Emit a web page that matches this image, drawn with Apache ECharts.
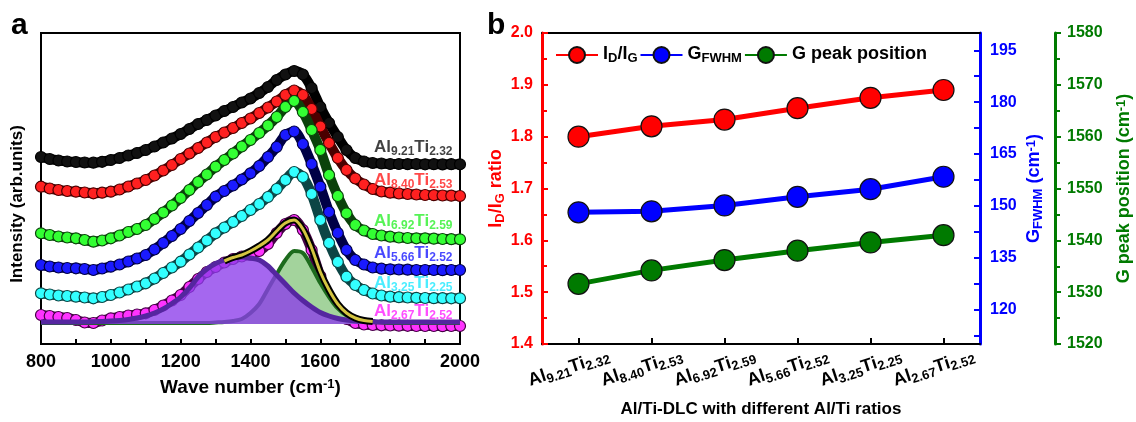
<!DOCTYPE html>
<html>
<head>
<meta charset="utf-8">
<script src="https://cdn.jsdelivr.net/npm/echarts@6/dist/echarts.min.js"></script>
<style>
html, body { margin: 0; padding: 0; background: #fff; }
#chart { width: 1136px; height: 422px; }
</style>
</head>
<body>
<div id="chart"></div>
<script>
// ---------- panel a: Raman spectra (offset, arb. units) ----------
const wavenumbers = [800,825,850,875,900,925,950,975,1000,1025,1050,1075,1100,1125,1150,1175,1200,1225,1250,1275,1300,1325,1350,1375,1400,1425,1450,1475,1500,1525,1550,1575,1600,1625,1650,1675,1700,1725,1750,1775,1800,1825,1850,1875,1900,1925,1950,1975,2000];

const alContent = ['9.21','8.40','6.92','5.66','3.25','2.67'];
const tiContent = ['2.32','2.53','2.59','2.52','2.25','2.52'];

const spectrumAl921 = [187,185,183.5,182.5,182,181.5,181.3,182.2,184,186,188.5,191,194,197.5,201.5,205.5,210,215,220,224,228.5,233,237,241.5,245.5,251,257,264,269.5,273,269.5,256,237,221,207,194,186,182.5,181,180.5,180,180,179.8,180,179.7,179.8,179.6,179.8,179.7];
const spectrumAl840 = [157.3,155.5,154,153,152.3,151.5,150.7,151.3,152.3,154.5,157.5,160.5,164,168.5,173.5,179,185,190.5,196,201.5,207,211.5,216,221,225.5,231,236.5,242.5,249,253.5,249,235,217.5,201,186,174,165.5,159.5,155,152.5,151.3,150.5,150,149.5,149,148.8,148.5,148.3,148];
const spectrumAl692 = [110.7,109,107.5,106.5,105.7,104,102.3,103.5,105.7,108.5,112,115,119,125,131.5,138.5,146,154,162,169.5,177.3,184,190.5,197.5,204,211,218.5,227,237,243,232,214,194,169,148,130.7,119,113.5,110,108.5,107.3,106.5,106,105.7,105.7,105.3,105,104.8,104.7];
const spectrumAl566 = [79,77.5,76.5,76,75.7,75,74,75.5,77.3,79.5,82.5,85.5,89,94.5,101,108,115,123,131,139,147.3,153,158.5,164.5,170.7,178,187,197,209,212.5,200,180,157.3,132,111,94,84,79.5,76.5,75.3,74.7,74.5,74.3,74,74,74,73.8,74,74];
const spectrumAl325 = [50.7,49.5,48.5,48,47.3,46.5,45.7,47,49,51.5,54.5,57.5,60.7,65.5,71,76.5,82.3,89.5,96.5,103.5,110.7,116.5,122,128,134,140,147,155,164,172,167,150,124,101,82,67.3,59,54,50.5,48.5,47.3,46.8,46.5,46.2,46,45.8,45.8,45.7,45.7];
const spectrumAl267 = [29,28,27,26,24,21.5,21,23.5,25.7,27,28.5,29.5,30.7,34,38.5,43.5,49,57,65,72,77,81.5,85,87.5,89,93,100,111,120,124,114,94,68,48,33,25,21,19.5,19,18.7,18.5,18.3,18.2,18,18,18,17.8,18,18];

// Gaussian fit of the Al2.67Ti2.52 spectrum: baseline level and band heights above it
const fitBaseline = 20;
const dBandHeight = [2,2,2,2,2,2,2.3,2.6,3,3.6,4.5,6,8,11,15,20.5,27,36,47,55,60.5,64,66.5,67,66,64,58,49,40,31,23.5,17,11.5,8,5.5,4,3,2.6,2.3,2,2,2,2,2,2,2,2,2,2];
const gBandHeight = [1,1,1,1,1,1,1,1,1,1,1,1,1,1,1,1,1,1,1,1,1.5,2,3,5,11,20,35,50,64,73,71,57,41,27,15.5,8.5,5,3,2,1.5,1,1,1,1,1,1,1,1,1];
const fitEnvelope = ['-','-','-','-','-','-','-','-','-','-','-','-','-','-','-','-','-','-','-','-','-',83,86.5,89,93,98,104,113,121,124,115,96,72,54,40,31,26,23.5,22.5,'-','-','-','-','-','-','-','-','-','-'];

// sample name labels at the right end of each trace
const labelLevels = [196, 163, 121.5, 90, 60, 31.5];

// ---------- panel b: fitted Raman parameters ----------
const idIgRatio = [1.80, 1.82, 1.833, 1.855, 1.875, 1.89];
const gFwhm = [148.1, 148.4, 150.1, 152.6, 154.8, 158.4];
const gPeakPosition = [1531.6, 1534.2, 1536.2, 1538.0, 1539.6, 1541.0];

const fwhmTicks = [112.5,120,127.5,135,142.5,150,157.5,165,172.5,180,187.5,195];
const fwhmLabels = [120,135,150,165,180,195];

// ---------- styling helpers ----------
const FONT = '"Liberation Sans", Arial, Helvetica, sans-serif';
function richSet(main, sub, color) {
  return {
    m: { fontSize: main, fontWeight: 'bold', fontFamily: FONT, color: color, lineHeight: main + 2, verticalAlign: 'top' },
    s: { fontSize: sub, fontWeight: 'bold', fontFamily: FONT, color: color, lineHeight: sub, verticalAlign: 'bottom', padding: [Math.round(main * 0.6), 0, 0, 0] },
    p: { fontSize: sub, fontWeight: 'bold', fontFamily: FONT, color: color, lineHeight: sub, verticalAlign: 'top' }
  };
}
const sampleRich = k => `{m|Al}{s|${alContent[k]}}{m|Ti}{s|${tiContent[k]}}`;
const pairs = arr => wavenumbers.map((w, i) => [w, arr[i]]);
const bandPairs = arr => wavenumbers.map((w, i) => [w, fitBaseline + arr[i]]);

const spectra = [spectrumAl921, spectrumAl840, spectrumAl692, spectrumAl566, spectrumAl325, spectrumAl267];
const traceFill = ['#111111', '#ff2020', '#33ff33', '#1a1aff', '#33ffff', '#ff33ff'];
const traceEdge = ['#000000', '#4a0000', '#0b420b', '#000045', '#0c4545', '#450045'];
const labelColor = ['#111111', '#ff1a1a', '#2cf02c', '#1a1aff', '#1ee8ff', '#ff22ff'];

const RED = '#ff0000', BLUE = '#0000ff', GREEN = '#007a00';
const categories = alContent.map((a, i) => 'Al' + a + 'Ti' + tiContent[i]);

const chart = echarts.init(document.getElementById('chart'), null, { renderer: 'canvas' });

const series = [];
spectra.forEach((arr, k) => {
  series.push({
    type: 'line', xAxisIndex: 0, yAxisIndex: 0, data: pairs(arr),
    smooth: 0.3, symbol: 'circle', symbolSize: 11, showSymbol: true, showAllSymbol: true,
    itemStyle: { color: traceFill[k], borderColor: traceEdge[k], borderWidth: 1.2 },
    lineStyle: { color: traceEdge[k], width: 10 },
    silent: true, z: 2
  });
});
// G band
series.push({ type: 'line', xAxisIndex: 0, yAxisIndex: 0, data: bandPairs(gBandHeight),
  smooth: 0.3, symbol: 'none', lineStyle: { color: '#1d6b1d', width: 4 },
  areaStyle: { color: '#a3d39c', opacity: 1, origin: fitBaseline }, silent: true, z: 3 });
// D band
series.push({ type: 'line', xAxisIndex: 0, yAxisIndex: 0, data: bandPairs(dBandHeight),
  smooth: 0.3, symbol: 'none', lineStyle: { color: '#5526a0', width: 5 },
  areaStyle: { color: 'rgba(140,60,235,0.78)', opacity: 1, origin: fitBaseline }, silent: true, z: 4 });
// cumulative fit
series.push({ type: 'line', xAxisIndex: 0, yAxisIndex: 0, data: pairs(fitEnvelope), smooth: 0.3,
  symbol: 'none', lineStyle: { color: '#000', width: 7 }, silent: true, z: 5 });
series.push({ type: 'line', xAxisIndex: 0, yAxisIndex: 0, data: pairs(fitEnvelope), smooth: 0.3,
  symbol: 'none', lineStyle: { color: '#d4c441', width: 3 }, silent: true, z: 5 });
// sample labels
series.push({
  type: 'scatter', xAxisIndex: 0, yAxisIndex: 0, symbolSize: 1, itemStyle: { color: 'rgba(0,0,0,0)' },
  silent: true, z: 6,
  data: labelLevels.map((v, k) => ({
    value: [1980, v],
    label: { show: true, position: 'left', distance: 0, formatter: sampleRich(k), rich: richSet(17, 12, labelColor[k]) }
  }))
});

// panel b series
const markerLine = (name, data, yIdx, color) => ({
  name: name, type: 'line', xAxisIndex: 1, yAxisIndex: yIdx, data: data,
  symbol: 'circle', symbolSize: 21,
  itemStyle: { color: color, borderColor: '#111', borderWidth: 1.2 },
  lineStyle: { color: color, width: 5 }, z: 3
});
series.push(markerLine('ratio', idIgRatio, 1, RED));
series.push(markerLine('fwhm', gFwhm, 2, BLUE));
series.push(markerLine('gpos', gPeakPosition, 3, GREEN));

const legendText = {
  ratio: '{m|I}{s|D}{m|/I}{s|G}',
  fwhm: '{m|G}{s|FWHM}',
  gpos: '{m|G peak position}'
};

const option = {
  animation: false,
  backgroundColor: '#fff',
  textStyle: { fontFamily: FONT },
  grid: [
    { left: 41, top: 33, width: 419, height: 311, show: true, borderColor: '#000', borderWidth: 2, backgroundColor: 'transparent', outerBoundsMode: 'none' },
    { left: 542, top: 33, width: 438, height: 311, outerBoundsMode: 'none' }
  ],
  xAxis: [
    {
      gridIndex: 0, type: 'value', min: 800, max: 2000, interval: 200,
      axisLine: { show: true, lineStyle: { color: '#000', width: 2 } },
      axisTick: { show: true, inside: true, length: 5, lineStyle: { color: '#000', width: 2 } },
      minorTick: { show: true, splitNumber: 2, length: 5, lineStyle: { color: '#000', width: 2 } },
      splitLine: { show: false }, minorSplitLine: { show: false },
      axisLabel: { color: '#000', fontSize: 18, fontWeight: 'bold', fontFamily: FONT, margin: 9, formatter: v => String(v) },
      name: '{m|Wave number (cm}{p|-1}{m|)}', nameLocation: 'middle', nameGap: 34,
      nameTextStyle: { rich: richSet(19, 13, '#000') }
    },
    {
      gridIndex: 1, type: 'category', data: categories, boundaryGap: true, position: 'bottom',
      axisLine: { show: true, lineStyle: { color: '#000', width: 2 } },
      axisTick: { show: true, inside: true, alignWithLabel: true, length: 6, lineStyle: { color: '#000', width: 2 } },
      splitLine: { show: false },
      axisLabel: {
        interval: 0, rotate: 18, align: 'center', verticalAlign: 'middle', margin: 22, padding: [0, 20, 0, 0],
        formatter: (v, i) => sampleRich(i), rich: richSet(18, 13, '#000')
      },
      name: 'Al/Ti-DLC with different Al/Ti ratios', nameLocation: 'middle', nameGap: 57,
      nameTextStyle: { color: '#000', fontSize: 17, fontWeight: 'bold', fontFamily: FONT }
    },
    {
      gridIndex: 1, type: 'category', data: categories, position: 'top',
      axisLine: { show: true, lineStyle: { color: '#000', width: 2 } },
      axisTick: { show: false }, axisLabel: { show: false }, splitLine: { show: false }
    }
  ],
  yAxis: [
    { gridIndex: 0, type: 'value', min: 0, max: 311, show: false },
    {
      gridIndex: 1, type: 'value', min: 1.4, max: 2.0, interval: 0.1, position: 'left',
      axisLine: { show: true, lineStyle: { color: RED, width: 3 } },
      axisTick: { show: true, inside: true, length: 6, lineStyle: { color: RED, width: 2 } },
      minorTick: { show: true, splitNumber: 2, length: 5, lineStyle: { color: RED, width: 2 } },
      splitLine: { show: false }, minorSplitLine: { show: false },
      axisLabel: { color: RED, fontSize: 16, fontWeight: 'bold', fontFamily: FONT, margin: 9, formatter: v => v.toFixed(1) },
      name: '{m|I}{s|D}{m|/I}{s|G}{m| ratio}', nameLocation: 'middle', nameRotate: 90, nameGap: 32,
      nameTextStyle: { rich: richSet(18, 13, RED) }
    },
    {
      gridIndex: 1, type: 'value', min: 110, max: 200, position: 'right',
      axisLine: { show: true, lineStyle: { color: BLUE, width: 3 } },
      axisTick: { show: true, inside: true, length: 6, customValues: fwhmTicks, lineStyle: { color: BLUE, width: 2 } },
      splitLine: { show: false },
      axisLabel: { customValues: fwhmLabels, color: BLUE, fontSize: 16, fontWeight: 'bold', fontFamily: FONT, margin: 10 },
      name: '{m|G}{s|FWHM}{m| (cm}{p|-1}{m|)}', nameLocation: 'middle', nameRotate: 90, nameGap: 38,
      nameTextStyle: { rich: richSet(18, 13, BLUE) }
    },
    {
      gridIndex: 1, type: 'value', min: 1520, max: 1580, interval: 10, position: 'right', offset: 75,
      axisLine: { show: true, lineStyle: { color: GREEN, width: 3 } },
      axisTick: { show: true, inside: false, length: 6, lineStyle: { color: GREEN, width: 2 } },
      minorTick: { show: true, splitNumber: 2, length: 5, lineStyle: { color: GREEN, width: 2 } },
      splitLine: { show: false }, minorSplitLine: { show: false },
      axisLabel: { color: GREEN, fontSize: 16, fontWeight: 'bold', fontFamily: FONT, margin: 12, formatter: v => String(v) },
      name: '{m|G peak position (cm}{p|-1}{m|)}', nameLocation: 'middle', nameRotate: 90, nameGap: 60,
      nameTextStyle: { rich: richSet(18, 13, GREEN) }
    }
  ],
  legend: {
    data: ['ratio', 'fwhm', 'gpos'], left: 550, top: 36, itemWidth: 42, itemHeight: 20, itemGap: 2,
    formatter: n => legendText[n],
    textStyle: { rich: richSet(18, 13, '#000') }
  },
  graphic: [
    { type: 'text', x: 11, y: 11, style: { text: 'a', fill: '#000', font: 'bold 30px ' + FONT } },
    { type: 'text', x: 487, y: 11, style: { text: 'b', fill: '#000', font: 'bold 30px ' + FONT } },
    { type: 'text', x: 17, y: 204, rotation: Math.PI / 2,
      style: { text: 'Intensity (arb.units)', fill: '#000', font: 'bold 17px ' + FONT, align: 'center', verticalAlign: 'middle' } }
  ],
  series: series
};

chart.setOption(option);
</script>
</body>
</html>
